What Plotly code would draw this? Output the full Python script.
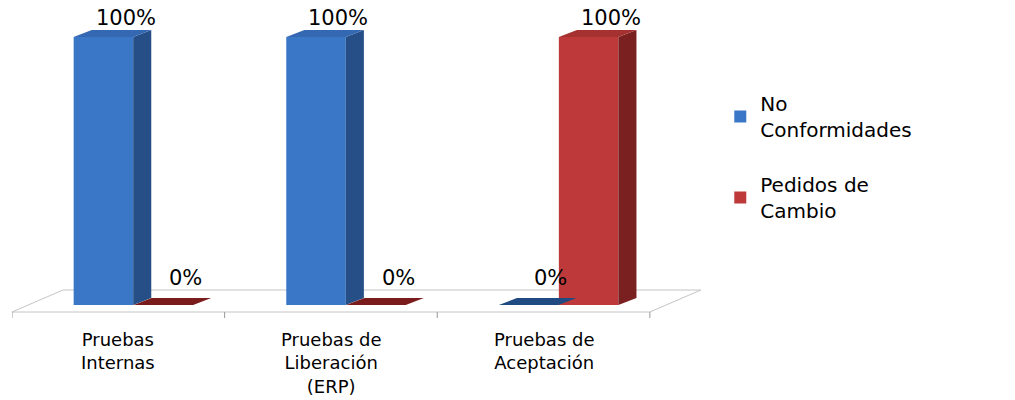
import plotly.graph_objects as go

# ---- data ----
categories = ["Pruebas<br>Internas", "Pruebas de<br>Liberación<br>(ERP)", "Pruebas de<br>Aceptación"]
series_names = ["No<br>Conformidades", "Pedidos de<br>Cambio"]
no_conformidades = [100, 100, 0]
pedidos_cambio = [0, 0, 100]

# ---- styles ----
FONT = "DejaVu Sans"
front_colors = ["#3A77C6", "#BE3A3A"]
side_colors = ["#254F86", "#7A2020"]
top_colors = ["#3468B2", "#A53131"]
flat_colors = ["#1F4A82", "#7A1C1C"]
offsets = [-0.21, 0.072]
bar_w = 0.28
DX, DY = 0.085, 2.6          # pseudo-3D depth in data units
Y0, Y1 = -4.85, 110.07
X0, X1 = -0.5, 2.75

fig = go.Figure()
xs = list(range(len(categories)))
series = [no_conformidades, pedidos_cambio]

for si, vals in enumerate(series):
    # front faces
    fig.add_trace(go.Bar(
        x=xs, y=vals, name=series_names[si], offset=offsets[si], width=bar_w,
        marker=dict(color=front_colors[si], line=dict(width=0)),
        legendgroup=str(si), hoverinfo="skip",
    ))

# side + top faces derived from data
for si, vals in enumerate(series):
    for i, v in enumerate(vals):
        x0 = xs[i] + offsets[si]
        x1 = x0 + bar_w
        if v > 0:
            fig.add_trace(go.Scatter(
                x=[x1, x1 + DX, x1 + DX, x1, x1], y=[0, DY, v + DY, v, 0],
                fill="toself", fillcolor=side_colors[si], mode="lines",
                line=dict(width=0, color=side_colors[si]), showlegend=False, hoverinfo="skip"))
            top_c = top_colors[si]
        else:
            top_c = flat_colors[si]
        fig.add_trace(go.Scatter(
            x=[x0, x0 + DX, x1 + DX, x1, x0], y=[v, v + DY, v + DY, v, v],
            fill="toself", fillcolor=top_c, mode="lines",
            line=dict(width=0, color=top_c), showlegend=False, hoverinfo="skip"))
        # value label
        fig.add_annotation(
            x=x0 + bar_w / 2 + DX + 0.02, y=v + DY, xref="x", yref="y",
            text=f"{v}%", showarrow=False, yanchor="bottom",
            yshift=(-2 if v > 0 else 6),
            font=dict(family=FONT, size=21, color="#000000"))

# floor (pseudo-3D plane) and boundary ticks
floor_front = -2.61
floor_back = 5.6
fdx = 0.24
floor_col = "#C4C4C4"
n = len(categories)
fig.add_shape(type="path", xref="x", yref="y",
              path=f"M {-0.5},{floor_front} L {n - 0.5},{floor_front} L {n - 0.5 + fdx},{floor_back} "
                   f"L {-0.5 + fdx},{floor_back} Z",
              line=dict(color=floor_col, width=1), fillcolor="rgba(0,0,0,0)", layer="below")
for b in range(n + 1):
    fig.add_shape(type="line", xref="x", yref="y", x0=b - 0.5, x1=b - 0.5,
                  y0=floor_front, y1=Y0, line=dict(color="#9A9A9A", width=1))

# category labels
for i, cat in enumerate(categories):
    fig.add_annotation(
        x=xs[i], y=-(327 - 318) / 308, xref="x", yref="paper",
        text=cat, showarrow=False, yanchor="top", xanchor="center", align="center",
        font=dict(family=FONT, size=18, color="#000000"))

fig.update_layout(
    width=1015, height=400,
    margin=dict(l=12, r=312, t=10, b=82),
    paper_bgcolor="white", plot_bgcolor="white",
    barmode="overlay",
    xaxis=dict(range=[X0, X1], visible=False),
    yaxis=dict(range=[Y0, Y1], visible=False),
    showlegend=True,
    legend=dict(x=1.025, y=0.76, xanchor="left", yanchor="top",
                font=dict(family=FONT, size=20, color="#000000"),
                tracegroupgap=26, bgcolor="rgba(0,0,0,0)"),
)

fig.write_html("out.html")
